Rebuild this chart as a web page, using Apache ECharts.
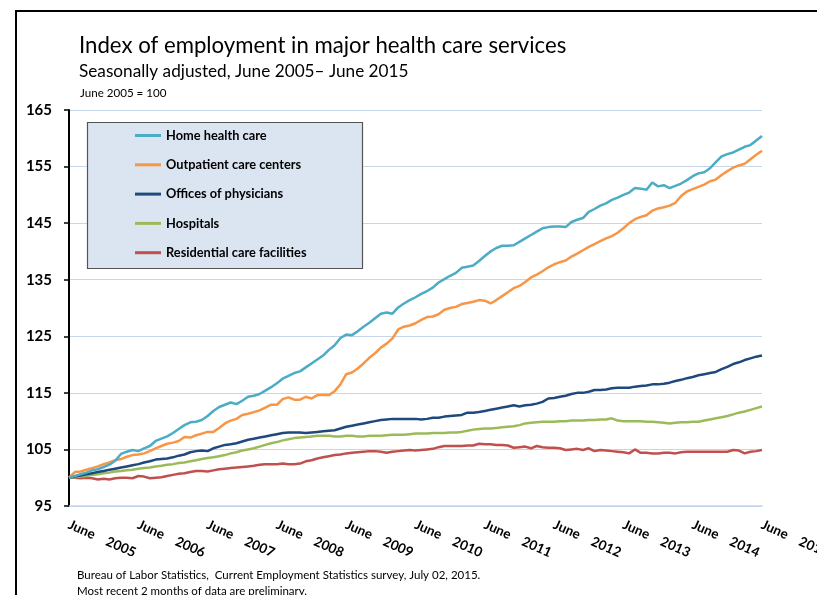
<!DOCTYPE html>
<html>
<head>
<meta charset="utf-8">
<script src="https://cdn.jsdelivr.net/npm/echarts@6/dist/echarts.min.js"></script>
<style>
html,body{margin:0;padding:0;background:#fff;overflow:hidden;}
#chart{width:817px;height:595px;}
</style>
</head>
<body>
<div id="chart"></div>
<script>
// Months since June 2005 (0..120), one value per month
const tickLabels = ['June    2005','June    2006','June    2007','June    2008','June    2009','June    2010','June    2011','June    2012','June    2013','June    2014','June    2015'];
const seriesNames = ['Home health care','Outpatient care centers','Offices of physicians','Hospitals','Residential care facilities'];
const seriesColors = ['#4bacc6','#f79646','#1f497d','#9bbb59','#c0504d'];

const homeHealth = [100.0,100.3,100.6,100.9,101.3,101.5,101.9,102.3,103.0,104.2,104.6,104.9,
104.7,105.2,105.6,106.5,106.9,107.3,107.9,108.6,109.3,109.8,109.9,110.2,
110.9,111.8,112.5,112.9,113.3,113.0,113.6,114.3,114.5,114.8,115.4,116.0,
116.7,117.5,118.0,118.5,118.8,119.5,120.2,120.9,121.6,122.6,123.4,124.7,
125.3,125.2,125.9,126.7,127.4,128.2,129.0,129.2,129.0,130.1,130.8,131.4,
131.9,132.5,133.0,133.6,134.5,135.1,135.7,136.2,137.1,137.3,137.5,138.3,
139.2,140.0,140.6,141.0,141.0,141.1,141.7,142.3,142.9,143.5,144.1,144.3,
144.4,144.4,144.3,145.2,145.6,145.9,147.0,147.5,148.1,148.5,149.1,149.5,
150.0,150.4,151.2,151.1,150.9,152.2,151.5,151.7,151.2,151.6,152.0,152.6,
153.3,153.8,154.0,154.7,155.8,156.8,157.2,157.5,158.0,158.5,158.8,159.6,
160.4];

const outpatient = [100.0,101.0,101.1,101.4,101.7,102.0,102.4,102.7,103.1,103.3,103.7,104.0,
104.1,104.3,104.7,105.2,105.6,106.0,106.2,106.5,107.2,107.1,107.5,107.8,
108.1,108.1,108.8,109.6,110.1,110.4,111.1,111.3,111.6,111.9,112.4,112.9,
112.9,113.9,114.2,113.8,113.8,114.3,114.0,114.6,114.6,114.6,115.3,116.5,
118.3,118.6,119.3,120.2,121.2,122.0,123.0,123.7,124.6,126.2,126.7,126.9,
127.3,127.9,128.4,128.5,128.9,129.7,130.0,130.2,130.7,130.9,131.1,131.4,
131.3,130.8,131.4,132.1,132.8,133.5,133.9,134.6,135.4,135.9,136.5,137.2,
137.7,138.1,138.4,139.1,139.6,140.2,140.8,141.3,141.8,142.3,142.7,143.3,
144.1,145.0,145.7,146.1,146.4,147.2,147.6,147.8,148.1,148.6,149.8,150.6,
151.0,151.4,151.8,152.4,152.7,153.5,154.2,154.8,155.2,155.5,156.3,157.1,
157.8];

const physicians = [100.0,100.2,100.4,100.6,100.8,101.0,101.2,101.4,101.6,101.8,102.0,102.2,
102.4,102.7,102.9,103.2,103.3,103.4,103.6,103.9,104.1,104.5,104.7,104.8,
104.7,105.2,105.5,105.8,105.9,106.1,106.4,106.7,106.9,107.1,107.3,107.5,
107.7,107.9,108.0,108.0,108.0,107.9,108.0,108.1,108.2,108.3,108.4,108.7,
109.0,109.2,109.4,109.6,109.8,110.0,110.2,110.3,110.4,110.4,110.4,110.4,
110.4,110.3,110.4,110.6,110.6,110.8,110.9,111.0,111.1,111.5,111.5,111.6,
111.8,112.0,112.2,112.4,112.6,112.8,112.6,112.8,112.9,113.1,113.4,114.0,
114.1,114.3,114.5,114.8,115.0,115.0,115.2,115.5,115.5,115.6,115.8,115.9,
115.9,115.9,116.1,116.2,116.3,116.5,116.5,116.6,116.8,117.1,117.3,117.6,
117.8,118.1,118.3,118.5,118.7,119.2,119.6,120.1,120.4,120.8,121.1,121.4,
121.6];

const hospitals = [100.0,100.1,100.2,100.3,100.5,100.6,100.8,100.9,101.1,101.2,101.3,101.4,
101.6,101.7,101.8,102.0,102.1,102.3,102.4,102.6,102.7,102.9,103.1,103.3,
103.5,103.6,103.8,104.0,104.3,104.5,104.8,105.0,105.2,105.5,105.8,106.1,
106.3,106.6,106.8,107.0,107.1,107.2,107.3,107.4,107.4,107.4,107.3,107.3,
107.4,107.4,107.3,107.3,107.4,107.4,107.4,107.5,107.6,107.6,107.6,107.7,
107.8,107.8,107.8,107.9,107.9,107.9,108.0,108.0,108.1,108.3,108.5,108.6,
108.7,108.7,108.8,108.9,109.0,109.1,109.3,109.6,109.7,109.8,109.9,109.9,
109.9,110.0,110.0,110.1,110.1,110.1,110.2,110.2,110.3,110.3,110.5,110.1,
110.0,110.0,110.0,110.0,109.9,109.9,109.8,109.7,109.6,109.7,109.8,109.8,
109.9,109.9,110.1,110.3,110.5,110.7,110.9,111.2,111.5,111.7,112.0,112.3,
112.6];

const residential = [100.0,100.0,99.9,100.0,99.9,99.7,99.8,99.7,99.9,100.0,100.0,99.9,
100.3,100.2,99.9,100.0,100.1,100.3,100.5,100.7,100.8,101.0,101.2,101.2,
101.1,101.3,101.5,101.6,101.7,101.8,101.9,102.0,102.1,102.3,102.4,102.4,
102.4,102.5,102.4,102.4,102.5,102.9,103.1,103.4,103.6,103.8,104.0,104.1,
104.3,104.4,104.5,104.6,104.7,104.7,104.6,104.4,104.6,104.7,104.8,104.9,
104.8,104.9,105.0,105.1,105.4,105.6,105.6,105.6,105.6,105.7,105.7,106.0,
105.9,105.9,105.8,105.8,105.7,105.3,105.4,105.5,105.2,105.6,105.4,105.3,
105.3,105.2,104.9,105.0,105.1,104.9,105.2,104.7,104.9,104.8,104.7,104.6,
104.5,104.3,105.0,104.4,104.4,104.3,104.3,104.4,104.4,104.3,104.5,104.6,
104.6,104.6,104.6,104.6,104.6,104.6,104.6,104.9,104.8,104.3,104.6,104.7,
104.9];

const allSeries = [homeHealth, outpatient, physicians, hospitals, residential];

const chart = echarts.init(document.getElementById('chart'), null, {renderer:'canvas'});
const FONT = 'Lato';

chart.setOption({
  animation: false,
  backgroundColor: '#ffffff',
  textStyle: {fontFamily: FONT},
  title: [
    {text: 'Index of employment in major health care services', left: 74, top: 30,
     textStyle: {fontFamily: FONT, fontSize: 22.2, fontWeight: 'normal', color: '#000'}},
    {text: 'Seasonally adjusted, June 2005\u2013 June 2015', left: 74, top: 58,
     textStyle: {fontFamily: FONT, fontSize: 17.2, fontWeight: 'normal', color: '#000'}},
    {text: 'June 2005 = 100', left: 75, top: 82,
     textStyle: {fontFamily: FONT, fontSize: 11.6, fontWeight: 'normal', color: '#000'}}
  ],
  grid: {left: 69, right: 55, top: 110, bottom: 89, containLabel: false, outerBoundsMode: 'none'},
  legend: {
    data: seriesNames,
    orient: 'vertical',
    left: 135,
    top: 129,
    padding: 0,
    icon: 'rect',
    itemWidth: 26,
    itemHeight: 3,
    itemGap: 16.3,
    z: 10,
    textStyle: {fontFamily: FONT, fontSize: 12.8, fontWeight: 'bold', color: '#000'}
  },
  xAxis: {
    type: 'value', min: 0, max: 120, interval: 12,
    axisLine: {show: true, lineStyle: {color: '#c6d6ea', width: 1.5}},
    axisTick: {show: false},
    splitLine: {show: false},
    axisLabel: {
      showMinLabel: true, showMaxLabel: true,
      formatter: function (v) { return tickLabels[Math.round(v / 12)] || ''; },
      rotate: -24, margin: 18,
      fontFamily: FONT, fontSize: 13.5, fontWeight: 'bold', color: '#000'
    }
  },
  yAxis: {
    type: 'value', min: 95, max: 165, interval: 10,
    axisLine: {show: true, lineStyle: {color: '#000', width: 2}},
    axisTick: {show: true, length: 5, lineStyle: {color: '#000', width: 1.5}},
    splitLine: {show: true, lineStyle: {color: '#c6d6ea', width: 1.2}},
    axisLabel: {margin: 17, fontFamily: FONT, fontSize: 15, fontWeight: 'bold', color: '#000'}
  },
  series: seriesNames.map(function (name, k) {
    return {
      name: name, type: 'line', symbol: 'none', showSymbol: false,
      data: allSeries[k].map(function (v, i) { return [i, v]; }),
      lineStyle: {color: seriesColors[k], width: 2.5},
      itemStyle: {color: seriesColors[k]},
      z: 2 + (4 - k)
    };
  }),
  graphic: [
    {type: 'polyline', z: 1, shape: {points: [[16, 600], [16, 11], [820, 11]]},
     style: {stroke: '#000', lineWidth: 2, fill: null}},
    {type: 'rect', z: 8, shape: {x: 87.5, y: 122.5, width: 275, height: 146},
     style: {fill: '#dbe5f1', stroke: '#555', lineWidth: 1.2}},
    {type: 'text', z: 5, left: 77, top: 569,
     style: {text: 'Bureau of Labor Statistics,  Current Employment Statistics survey, July 02, 2015.', fontFamily: FONT, fontSize: 11.5, fill: '#000'}},
    {type: 'text', z: 5, left: 77, top: 585,
     style: {text: 'Most recent 2 months of data are preliminary.', fontFamily: FONT, fontSize: 11.5, fill: '#000'}}
  ]
});
</script>
</body>
</html>
